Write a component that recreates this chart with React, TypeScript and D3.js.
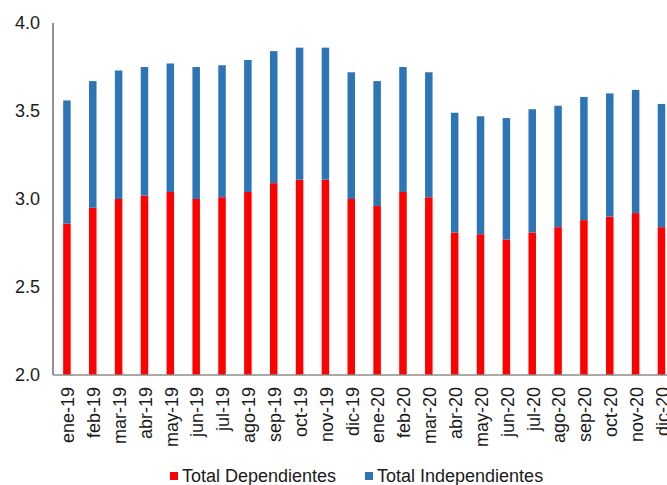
import React from 'react';
import * as d3 from 'd3';

const months = [
  'ene-19', 'feb-19', 'mar-19', 'abr-19', 'may-19', 'jun-19', 'jul-19', 'ago-19',
  'sep-19', 'oct-19', 'nov-19', 'dic-19', 'ene-20', 'feb-20', 'mar-20', 'abr-20',
  'may-20', 'jun-20', 'jul-20', 'ago-20', 'sep-20', 'oct-20', 'nov-20', 'dic-20',
];

const dependientes = [
  2.86, 2.95, 3.0, 3.02, 3.04, 3.0, 3.01, 3.04, 3.09, 3.11, 3.11, 3.0,
  2.96, 3.04, 3.01, 2.81, 2.8, 2.77, 2.81, 2.84, 2.88, 2.9, 2.92, 2.84,
];

const independientes = [
  0.7, 0.72, 0.73, 0.73, 0.73, 0.75, 0.75, 0.75, 0.75, 0.75, 0.75, 0.72,
  0.71, 0.71, 0.71, 0.68, 0.67, 0.69, 0.7, 0.69, 0.7, 0.7, 0.7, 0.7,
];

const yTicks = [2.0, 2.5, 3.0, 3.5, 4.0];

const seriesNames = ['Total Dependientes', 'Total Independientes'];
const seriesColors = ['#ff0000', '#2e75b6'];

const width = 667;
const height = 485;
const font = '"Liberation Sans", Arial, sans-serif';

export default function App() {
  // plot area
  const left = 54;
  const top = 23;
  const bottom = 375;

  const x = d3.scaleBand<string>()
    .domain(months)
    .range([left, left + 25.85 * months.length])
    .paddingInner(0.71)
    .paddingOuter(0.355);

  const y = d3.scaleLinear().domain([2, 4]).range([bottom, top]);

  const rows = months.map((m, i) => ({ m, dep: dependientes[i], ind: independientes[i] }));
  const stacked = d3.stack<any>().keys(['dep', 'ind'])(rows);
  // stack starts at zero, clip to axis min
  const yb = (v: number) => y(Math.max(v, 2));

  return (
    <svg width={width} height={height} style={{ position: 'absolute', left: 0, top: 0, background: '#fff' }}
      fontFamily={font}>
      {stacked.map((layer, li) => (
        <g key={layer.key} fill={seriesColors[li]}>
          {layer.map((d, i) => (
            <rect key={i}
              x={x(months[i])}
              y={yb(d[1])}
              width={x.bandwidth()}
              height={yb(d[0]) - yb(d[1])} />
          ))}
        </g>
      ))}

      {/* y axis */}
      <line x1={53} x2={53} y1={y(4)} y2={bottom} stroke="#595959" strokeWidth={1.3} />
      {yTicks.map(t => (
        <text key={t} x={40} y={y(t)} dy="0.35em" textAnchor="end" fontSize={18} fill="#1a1a1a">
          {d3.format('.1f')(t)}
        </text>
      ))}

      {/* x axis */}
      <line x1={53} x2={width} y1={bottom} y2={bottom} stroke="#8c8c8c" strokeWidth={1.3} />
      {months.map(m => {
        const cx = (x(m) as number) + x.bandwidth() / 2;
        return (
          <text key={m} transform={`translate(${cx + 1},${bottom + 12}) rotate(-90)`}
            textAnchor="end" dy="0.35em" fontSize={18} fill="#1a1a1a">
            {m}
          </text>
        );
      })}

      {/* legend */}
      {seriesNames.map((s, i) => {
        const lx = i === 0 ? 170 : 365;
        return (
          <g key={s} transform={`translate(${lx},472)`}>
            <rect x={0} y={0} width={8} height={8} fill={seriesColors[i]} />
            <text x={12} y={10} fontSize={18} fill="#1a1a1a">{s}</text>
          </g>
        );
      })}
    </svg>
  );
}
